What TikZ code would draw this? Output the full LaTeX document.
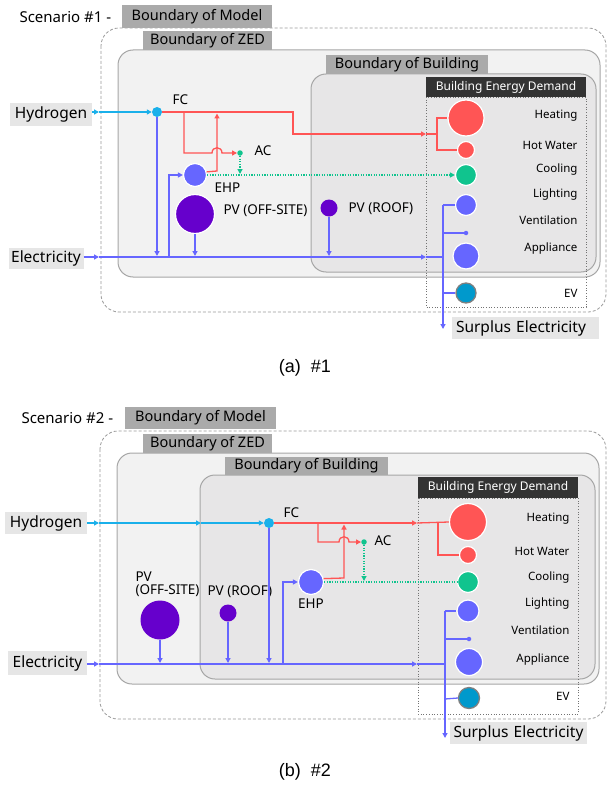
\documentclass[tikz,border=0pt]{standalone}
\usepackage{fontspec}
\setmainfont{Noto Sans}
\newfontfamily\capfont{Liberation Sans}
\usetikzlibrary{arrows.meta,calc}
\definecolor{cred}{HTML}{FF5555}
\definecolor{ccyan}{HTML}{1AB0EA}
\definecolor{cblue}{HTML}{6666FF}
\definecolor{cpurple}{HTML}{6600CC}
\definecolor{cgreen}{HTML}{10C48E}
\definecolor{cev}{HTML}{0099CC}
\definecolor{lbgray}{HTML}{AAAAAA}
\definecolor{ltgray}{HTML}{E6E6E6}
\definecolor{zedfill}{HTML}{F2F2F2}
\definecolor{bldfill}{HTML}{E7E6E7}
\definecolor{bordergray}{HTML}{A6A6A6}
\definecolor{demandbg}{HTML}{333333}
\tikzset{
  tip/.style={-{Triangle[length=5pt,width=5pt]}},
  fs/.style={font=\fontsize{#1}{#1}\selectfont},
  boundlbl/.style={fill=lbgray, inner sep=0pt, fs=14.5},
  inlbl/.style={fill=ltgray, inner sep=0pt, fs=15.5},
  demandlbl/.style={fill=demandbg, text=white, inner sep=0pt, fs=12},
  modelbox/.style={draw=gray!80, dashed, dash pattern=on 3pt off 2pt, line width=0.8pt, rounded corners=18pt},
  zedbox/.style={draw=bordergray, fill=zedfill, line width=1pt, rounded corners=15pt},
  bldbox/.style={draw=bordergray, fill=bldfill, line width=1pt, rounded corners=15pt},
  demandbox/.style={draw=gray!90!black, dotted, line width=0.7pt},
  dot/.style={circle, inner sep=0pt, draw=white, line width=1.2pt},
  smalldot/.style={circle, inner sep=0pt},
  rl/.style={draw=cred, line width=1.3pt},
  bl/.style={draw=cblue, line width=1.3pt},
  cl/.style={draw=ccyan, line width=1.3pt},
  gl/.style={draw=cgreen, line width=1.3pt, dash pattern=on 1.3pt off 1.3pt},
  dlabel/.style={anchor=east, fs=11.5},
  plabel/.style={fs=13.5},
  caption/.style={font=\capfont\fontsize{18}{18}\selectfont},
}
\begin{document}
\begin{tikzpicture}[x=1pt,y=-1pt]
\useasboundingbox (0,0) rectangle (608,789);

%%%%%%%%%%%%%%%% PANEL 1 %%%%%%%%%%%%%%%%
\draw[modelbox] (101,28) rectangle (606,312);
\node[anchor=west, fs=15] (sc1) at (16,17) {Scenario \#1 -};
\node[boundlbl, minimum width=150pt, minimum height=23pt] (bm1) at (197,16.5) {Boundary of Model};
\draw[zedbox] (118,50) rectangle (600,277);
\node[boundlbl, minimum width=129pt, minimum height=19pt] (bz1) at (207.5,40.5) {Boundary of ZED};
\draw[bldbox] (311,74) rectangle (596,272);
\node[boundlbl, minimum width=162pt, minimum height=19pt] (bb1) at (407,64.5) {Boundary of Building};
\draw[demandbox] (426,97) rectangle (586,307);
\node[demandlbl, minimum width=160pt, minimum height=20pt] (bed1) at (506,87) {Building Energy Demand};

% demand circles
\node[dot, fill=cred, minimum size=36pt] (heat1) at (466,118) {};
\node[dot, fill=cred, minimum size=17pt] (hw1) at (466,150) {};
\node[dot, fill=cgreen, minimum size=21pt] (cool1) at (466,175) {};
\node[dot, fill=cblue, minimum size=21pt] (light1) at (466,205) {};
\node[smalldot, fill=cblue, minimum size=4.5pt] (vent1) at (466,233) {};
\node[dot, fill=cblue, minimum size=26pt] (app1) at (466,256) {};
\node[circle, inner sep=0pt, draw=gray, line width=1.3pt, fill=cev, minimum size=20pt] (ev1) at (466,293) {};
\node[dlabel] (lheat1) at (581,116) {Heating};
\node[dlabel] (lhw1) at (581,145) {Hot Water};
\node[dlabel] (lcool1) at (581,170) {Cooling};
\node[dlabel] (llight1) at (581,195) {Lighting};
\node[dlabel] (lvent1) at (581,220) {Ventilation};
\node[dlabel] (lapp1) at (581,249) {Appliance};
\node[dlabel] (lev1) at (581,293) {EV};

% sources
\node[inlbl, minimum width=82pt, minimum height=23pt] (hyd1) at (51,114.5) {Hydrogen};
\node[inlbl, minimum width=75pt, minimum height=21pt] (elec1) at (46,258) {Electricity};
\node[inlbl, minimum width=147pt, minimum height=22pt, text width=139pt, align=left] (sur1) at (525.5,328) {Surplus Electricity};

\node[smalldot, fill=ccyan, minimum size=10pt] (fc1) at (157,112) {};
\node[plabel, anchor=west] (lfc1) at (169,100) {FC};
\node[smalldot, fill=cgreen, minimum size=5.5pt] (ac1) at (240,153) {};
\node[plabel, anchor=west] (lac1) at (251,151) {AC};
\node[dot, fill=cblue, minimum size=23pt] (ehp1) at (195,175) {};
\node[plabel, anchor=west] (lehp1) at (211,188) {EHP};
\node[dot, fill=cpurple, minimum size=39pt, draw=white] (pvo1) at (195,214) {};
\node[plabel, anchor=west] (lpvo1) at (220,211) {PV (OFF-SITE)};
\node[smalldot, fill=cpurple, minimum size=17pt] (pvr1) at (329,208) {};
\node[plabel, anchor=west] (lpvr1) at (345,209) {PV (ROOF)};

% coordinates
\coordinate (ha1) at (99,112);
\coordinate (ra1) at (426,134);
\coordinate (rj1) at (437,134);
\coordinate (rb1) at (184,112);
\coordinate (rup1) at (217,113.5);
\coordinate (gc1) at (240,174);
\coordinate (ea1) at (99,257);
\coordinate (eb1) at (426,257);
\coordinate (bus1) at (443,257);
\coordinate (bt1) at (443,205);
\coordinate (bv1) at (443,233);
\coordinate (be1) at (443,293);
\coordinate (bend1) at (443,329);
\coordinate (fe1) at (157,256);
\coordinate (ef1) at (169,257);
\coordinate (pe1) at (195,256);
\coordinate (pr1) at (329,256);

% hydrogen
\draw[cl, tip] (hyd1.east |- ha1) -- (ha1);
\draw[cl, tip] (ha1) -- (fc1.west);
% green
\draw[gl, tip] (ehp1.east) -- (cool1.west);
\draw[gl, tip] (ac1.south) -- (gc1);
% red
\draw[rl, tip] (fc1.east) -- (293,112) -- (293,134) -- (ra1);
\draw[rl] (ra1) -- (rj1);
\draw[rl] (rj1) |- (heat1.west);
\draw[rl] (rj1) |- (hw1.west);
\draw[rl, tip] (rb1) -- (184,153) -- (212,153) .. controls (212,146) and (222,146) .. (222,153) -- (ac1.west);
\draw[rl, tip] (ehp1.15) -- (217,171) -- (rup1);
% blue
\draw[bl, tip] (fc1.south) -- (fe1);
\draw[bl, tip] (ef1) |- (ehp1.west);
\draw[bl, tip] (pvo1.south) -- (pe1);
\draw[bl, tip] (pvr1.south) -- (pr1);
\draw[bl, tip] (elec1.east |- ea1) -- (ea1);
\draw[bl, tip] (ea1) -- (eb1);
\draw[bl] (eb1) -- (bus1);
\draw[bl, tip] (bt1) -- (bend1);
\draw[bl] (bt1) -- (light1.west);
\draw[bl] (bv1) -- (vent1.west);
\draw[bl] (be1) -- (ev1.west);

\node[caption] (cap1) at (305,368) {(a)\ \ \#1};

%%%%%%%%%%%%%%%% PANEL 2 %%%%%%%%%%%%%%%%
\draw[modelbox] (100,431) rectangle (606,719);
\node[anchor=west, fs=15] (sc2) at (18,418) {Scenario \#2 -};
\node[boundlbl, minimum width=151pt, minimum height=22pt] (bm2) at (200.5,418) {Boundary of Model};
\draw[zedbox] (117,453) rectangle (599,684);
\node[boundlbl, minimum width=129pt, minimum height=19pt] (bz2) at (207.5,443.5) {Boundary of ZED};
\draw[bldbox] (200,475) rectangle (595,679);
\node[boundlbl, minimum width=163pt, minimum height=18pt] (bb2) at (306.5,466) {Boundary of Building};
\draw[demandbox] (418,498) rectangle (578,714);
\node[demandlbl, minimum width=160pt, minimum height=21pt] (bed2) at (498,487.5) {Building Energy Demand};

\node[dot, fill=cred, minimum size=37pt] (heat2) at (468,522) {};
\node[dot, fill=cred, minimum size=17pt] (hw2) at (468,555) {};
\node[dot, fill=cgreen, minimum size=21pt] (cool2) at (468,582) {};
\node[dot, fill=cblue, minimum size=22pt] (light2) at (468,611) {};
\node[smalldot, fill=cblue, minimum size=4.5pt] (vent2) at (469,639) {};
\node[dot, fill=cblue, minimum size=27pt] (app2) at (469,662) {};
\node[circle, inner sep=0pt, draw=gray, line width=1.3pt, fill=cev, minimum size=21pt] (ev2) at (469,698) {};
\node[dlabel] (lheat2) at (573,519) {Heating};
\node[dlabel] (lhw2) at (573,551) {Hot Water};
\node[dlabel] (lcool2) at (573,578) {Cooling};
\node[dlabel] (llight2) at (573,604) {Lighting};
\node[dlabel] (lvent2) at (573,630) {Ventilation};
\node[dlabel] (lapp2) at (573,660) {Appliance};
\node[dlabel] (lev2) at (573,696) {EV};

\node[inlbl, minimum width=82pt, minimum height=22pt] (hyd2) at (46,523) {Hydrogen};
\node[inlbl, minimum width=79pt, minimum height=24pt] (elec2) at (47.5,663) {Electricity};
\node[inlbl, minimum width=137pt, minimum height=22pt, text width=130pt, align=left] (sur2) at (518.5,733) {Surplus Electricity};

\node[smalldot, fill=ccyan, minimum size=10pt] (fc2) at (269,523) {};
\node[plabel, anchor=west] (lfc2) at (280,513) {FC};
\node[smalldot, fill=cgreen, minimum size=5.5pt] (ac2) at (364,542) {};
\node[plabel, anchor=west] (lac2) at (371,541) {AC};
\node[dot, fill=cblue, minimum size=25pt] (ehp2) at (311,582) {};
\node[plabel] (lehp2) at (311,604) {EHP};
\node[smalldot, fill=cpurple, minimum size=39pt] (pvo2) at (160,620) {};
\node[plabel, align=left, anchor=west] (lpvo2) at (132,584) {PV\\[-1pt](OFF-SITE)};
\node[smalldot, fill=cpurple, minimum size=17pt] (pvr2) at (228,613) {};
\node[plabel, anchor=west] (lpvr2) at (204,592) {PV (ROOF)};

\coordinate (ha2) at (99,523);
\coordinate (hb2) at (201,523);
\coordinate (ra2) at (417,523);
\coordinate (rj2) at (438,523);
\coordinate (rb2) at (318,523);
\coordinate (rup2) at (344,524.5);
\coordinate (gc2) at (364,581);
\coordinate (ea2) at (99,664);
\coordinate (eb2) at (417,664);
\coordinate (bus2) at (445,664);
\coordinate (bt2) at (445,611);
\coordinate (bv2) at (445,639);
\coordinate (be2) at (445,699);
\coordinate (bend2) at (445,738);
\coordinate (fe2) at (269,663);
\coordinate (ef2) at (283,664);
\coordinate (pe2) at (160,663);
\coordinate (pr2) at (228,663);

\draw[cl, tip] (hyd2.east |- ha2) -- (ha2);
\draw[cl, tip] (ha2) -- (hb2);
\draw[cl, tip] (hb2) -- (fc2.west);
\draw[gl] (ehp2.east) -- (cool2.west);
\draw[gl, tip] (ac2.south) -- (gc2);
\draw[rl, tip] (fc2.east) -- (ra2);
\draw[rl] (ra2) -- (heat2.west);
\draw[rl] (rj2) |- (hw2.west);
\draw[rl, tip] (rb2) -- (318,542) -- (339,542) .. controls (339,535) and (349,535) .. (349,542) -- (ac2.west);
\draw[rl, tip] (ehp2.15) -- (344,578) -- (rup2);
\draw[bl, tip] (fc2.south) -- (fe2);
\draw[bl, tip] (ef2) |- (ehp2.west);
\draw[bl, tip] (pvo2.south) -- (pe2);
\draw[bl, tip] (pvr2.south) -- (pr2);
\draw[bl, tip] (elec2.east |- ea2) -- (ea2);
\draw[bl, tip] (ea2) -- (eb2);
\draw[bl] (eb2) -- (bus2);
\draw[bl, tip] (bt2) -- (bend2);
\draw[bl] (bt2) -- (light2.west);
\draw[bl] (bv2) -- (vent2.west);
\draw[bl] (be2) -- (ev2.west);

\node[caption] (cap2) at (305,772) {(b)\ \ \#2};
\end{tikzpicture}
\end{document}
